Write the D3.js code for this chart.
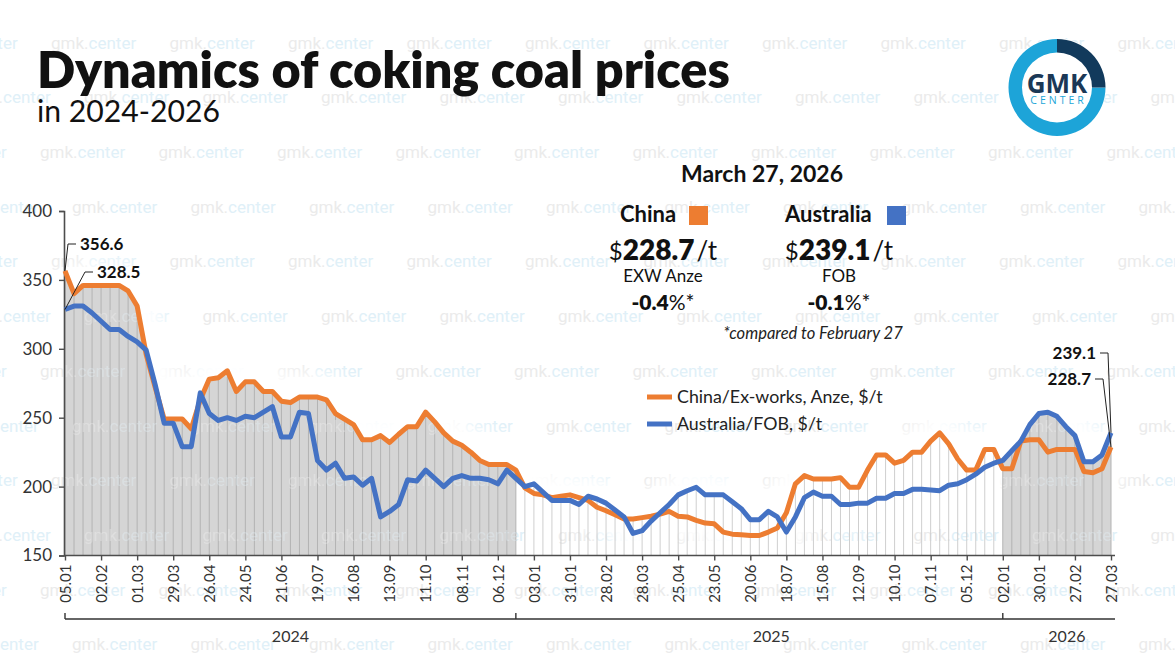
<!DOCTYPE html>
<html><head><meta charset="utf-8">
<script src="https://cdn.jsdelivr.net/npm/d3@7"></script>
<style>
body{margin:0;background:#fff;}
svg{display:block;font-family:Lato,"Noto Sans",sans-serif;}
</style></head><body>
<svg id="c" width="1175" height="665"></svg>
<script>
// ---------------- DATA ----------------
const dates2024 = ["05.01","12.01","19.01","26.01","02.02","09.02","16.02","23.02","01.03","08.03","15.03","22.03","29.03","05.04","12.04","19.04","26.04","03.05","10.05","17.05","24.05","31.05","07.06","14.06","21.06","28.06","05.07","12.07","19.07","26.07","02.08","09.08","16.08","23.08","30.08","06.09","13.09","20.09","27.09","04.10","11.10","18.10","25.10","01.11","08.11","15.11","22.11","29.11","06.12","13.12","20.12","27.12"];
const dates2025 = ["03.01","10.01","17.01","24.01","31.01","07.02","14.02","21.02","28.02","07.03","14.03","21.03","28.03","04.04","11.04","18.04","25.04","02.05","09.05","16.05","23.05","30.05","06.06","13.06","20.06","27.06","04.07","11.07","18.07","25.07","01.08","08.08","15.08","22.08","29.08","05.09","12.09","19.09","26.09","03.10","10.10","17.10","24.10","31.10","07.11","14.11","21.11","28.11","05.12","12.12","19.12","26.12"];
const dates2026 = ["02.01","09.01","16.01","23.01","30.01","06.02","13.02","20.02","27.02","06.03","13.03","20.03","27.03"];

const chinaEXW = [
356.6,340,346,346,346,346,346,342,331,296,
272,249,249,249,242,263,278,279,284,269,
276,276,269,269,262,261,265,265,265,263,
253,249,245,234,234,237,232,238,243.5,243.5,
254,247,239,233,230,225,219,216,216,216,
212,199,195,194,192,193,194,192,190,185,
182.5,179.5,176.5,176.5,177.5,178.5,180,182,178.5,178,
175.5,173.5,173,167,165.5,165,164.5,164.5,167,170,
181,202,208,205.5,205.5,205.5,206.5,199.5,199.5,212,
223,223,217,219,225,225,233,239,231,220,
212,212,227,227,213,213,233,234,234,225,
227,227,227,211,210,213,228.7];

const australiaFOB = [
328.5,331,331,326,320,314,314,309,305,299,
274,246,246,229,229,268,253,248,250,248,
251,250,254,258,236,236,254,253,219,212,
217,206,207,201,206,178,182,187,205,204,
212,206,200,206,208,206,206,205,202,212,
206,200,202,196,190,190,190,187,193,191,
188,183,178,166,168,175,181,187,194,197,
199.5,194,194,194,189,184,176,176,182,178,
167,178,192,196,193,193,187,187,188,188,
191.5,191.5,195,195,198,198,197.5,197,201,202,
205,209,214,217,219,226,233,245,253,254,
251,243.5,237,218,218,223,239.1];

const tickLabels = ["05.01","02.02","01.03","29.03","26.04","24.05","21.06","19.07","16.08","13.09","11.10","08.11","06.12",
  "03.01","31.01","28.02","28.03","25.04","23.05","20.06","18.07","15.08","12.09","10.10","07.11","05.12",
  "02.01","30.01","27.02","27.03"];
const yTicks = [150,200,250,300,350,400];
const years = ["2024","2025","2026"];
const seriesNames = ["China","Australia"];
const legendLabels = ["China/Ex-works, Anze, $/t","Australia/FOB, $/t"];
const latestDate = "March 27, 2026";
const latestPrice = ["228.7","239.1"];
const priceBasis = ["EXW Anze","FOB"];
const monthChange = ["-0.4","-0.1"];
const changeNote = "*compared to February 27";
const colors = ["#ed7d31","#4472c4"];

// ---------------- BUILD ----------------
const yearDates = [dates2024, dates2025, dates2026];
const keys = [];
yearDates.forEach((arr, yi) => arr.forEach(d => keys.push(d + "." + years[yi])));
const rows = keys.map((k, i) => ({k, i, c: chinaEXW[i], a: australiaFOB[i], m: Math.max(chinaEXW[i], australiaFOB[i])}));

const tickKeys = [];
let p = 0;
tickLabels.forEach(t => { while (p < keys.length && keys[p].slice(0,5) !== t) p++; tickKeys.push(keys[p]); });

const svg = d3.select("#c");
const W = 1175, H = 665;

const x = d3.scalePoint().domain(keys).range([65, 1111]);
const y = d3.scaleLinear().domain([150, 400]).range([555.5, 211]);

const defs = svg.append("defs");

// ---- watermarks ----
const rowOffsets = [51, 84, 40, 72];
function watermarks(g, c1, c2, keep) {
  for (let r = 0; r < 12; r++) {
    const by = 48.6 + r * 54.7;
    const off = rowOffsets[r % 4];
    for (let cx = off - 118.5; cx < W; cx += 118.5) {
      if (keep && !keep(cx, by)) continue;
      const t = g.append("text").attr("x", cx).attr("y", by);
      t.append("tspan").attr("fill", c1).text("gmk.");
      t.append("tspan").attr("fill", c2).text("center");
    }
  }
}
const wm = svg.append("g").attr("font-family", "Roboto, sans-serif").attr("font-size", 17);
watermarks(wm, "#ebebeb", "#e0f0f8");

// ---- glow ----
defs.append("filter").attr("id", "glow").attr("x", "-10%").attr("y", "-40%").attr("width", "120%").attr("height", "180%")
  .append("feGaussianBlur").attr("stdDeviation", 10);
const glow = svg.append("g").attr("filter", "url(#glow)");
["c", "a"].forEach(s => {
  glow.append("path").datum(rows)
    .attr("fill", "none").attr("stroke", "#fff").attr("stroke-width", 44).attr("stroke-linejoin", "round")
    .attr("d", d3.line().x(d => x(d.k)).y(d => y(d[s])));
});

// ---- shaded year bands ----
const band2024 = rows.filter(d => d.i <= 50);
const band2026 = rows.filter(d => d.i >= 104);
const area = d3.area().x(d => x(d.k)).y0(y(150)).y1(d => y(d.m));
const clip = defs.append("clipPath").attr("id", "bandclip");
[band2024, band2026].forEach(b => {
  svg.append("path").datum(b).attr("fill", "#d5d5d5").attr("d", area);
  clip.append("path").datum(b).attr("d", area);
});

// ---- weekly vertical lines ----
svg.append("g").selectAll("line").data(rows).join("line")
  .attr("x1", d => x(d.k)).attr("x2", d => x(d.k))
  .attr("y1", y(150)).attr("y2", d => y(d.m))
  .attr("stroke", d => (d.i <= 50 || d.i >= 104) ? "#b3b3b3" : "#cfcfcf")
  .attr("stroke-width", 1);

// faint watermark visible through the grey bands (only copies that fall inside the plot)
const wm2 = svg.append("g").attr("clip-path", "url(#bandclip)").attr("font-family", "Roboto, sans-serif")
  .attr("font-size", 17).attr("opacity", 0.35);
watermarks(wm2, "#f2f2f2", "#e6f3fa", (cx, by) => cx > 20 && cx < 1100 && by > 250 && by < 560);

// ---- axes ----
const axisColor = "#4d4d4d";
const gy = svg.append("g").attr("transform", "translate(64,0)")
  .call(d3.axisLeft(y).tickValues(yTicks).tickSize(5).tickPadding(7));
gy.select(".domain").attr("stroke", axisColor).attr("stroke-width", 1.6);
gy.selectAll(".tick line").attr("stroke", axisColor).attr("stroke-width", 1.4);
gy.selectAll(".tick text").attr("font-size", 17).attr("fill", "#333").attr("font-family", "Lato, sans-serif");

const gx = svg.append("g").attr("transform", `translate(0,${y(150)})`)
  .call(d3.axisBottom(x).tickValues(tickKeys).tickSize(5).tickFormat(d => d.slice(0,5)));
gx.select(".domain").attr("stroke", axisColor).attr("stroke-width", 1.6).attr("d", `M64,0H1115`);
gx.selectAll(".tick line").attr("stroke", axisColor).attr("stroke-width", 1.4);
gx.selectAll(".tick text")
  .attr("font-size", 15).attr("fill", "#333").attr("font-family", "Lato, sans-serif")
  .attr("text-anchor", "end").attr("transform", "rotate(-90)")
  .attr("x", -9).attr("y", 0).attr("dy", "0.35em");

// ---- year bracket ----
const by0 = 619;
const bracket = svg.append("g").attr("stroke", "#333").attr("stroke-width", 1.4);
bracket.append("line").attr("x1", x(keys[0])).attr("x2", 1115).attr("y1", by0).attr("y2", by0);
[keys[0], keys[50], keys[104]].forEach(k => {
  bracket.append("line").attr("x1", x(k)).attr("x2", x(k)).attr("y1", by0 - 6).attr("y2", by0);
});
const yearCenters = [
  (x(keys[0]) + x(keys[50])) / 2,
  (x(keys[50]) + x(keys[104])) / 2 + 12,
  (x(keys[104]) + 1115) / 2 + 8
];
years.forEach((yr, i) => {
  svg.append("text").attr("x", yearCenters[i]).attr("y", 642).attr("text-anchor", "middle")
    .attr("font-size", 16).attr("fill", "#333").text(yr);
});

// ---- series lines ----
["c", "a"].forEach((s, si) => {
  svg.append("path").datum(rows)
    .attr("fill", "none").attr("stroke", colors[si]).attr("stroke-width", 5)
    .attr("stroke-linejoin", "round")
    .attr("d", d3.line().x(d => x(d.k)).y(d => y(d[s])));
});

// ---- point labels ----
function callout(xv, yv, lx, ly, side, txt) {
  const g = svg.append("g");
  const elbowX = side === "right" ? lx - 4 : lx + 4;
  const endX = side === "right" ? lx - 12 : lx + 12;
  g.append("polyline").attr("fill", "none").attr("stroke", "#222").attr("stroke-width", 1)
    .attr("points", `${xv},${yv} ${endX},${ly} ${elbowX},${ly}`);
  g.append("text").attr("x", lx).attr("y", ly).attr("dy", "0.36em")
    .attr("text-anchor", side === "right" ? "start" : "end")
    .attr("font-size", 17).attr("font-weight", 700).attr("fill", "#111").text(txt);
}
callout(x(keys[0]), y(chinaEXW[0]), 80, 244, "right", chinaEXW[0].toFixed(1));
callout(x(keys[0]), y(australiaFOB[0]), 97, 272, "right", australiaFOB[0].toFixed(1));
const L = keys.length - 1;
callout(x(keys[L]), y(australiaFOB[L]), 1096, 353, "left", australiaFOB[L].toFixed(1));
callout(x(keys[L]), y(chinaEXW[L]), 1091, 379, "left", chinaEXW[L].toFixed(1));

// ---- legend ----
legendLabels.forEach((lab, i) => {
  const ly = 397 + i * 27;
  svg.append("line").attr("x1", 647).attr("x2", 672).attr("y1", ly).attr("y2", ly)
    .attr("stroke", colors[i]).attr("stroke-width", 5);
  svg.append("text").attr("x", 677).attr("y", ly).attr("dy", "0.35em")
    .attr("font-size", 17.8).attr("fill", "#222").text(lab);
});

// ---- header ----
svg.append("text").attr("x", 37).attr("y", 88).attr("font-size", 47).attr("font-weight", 800)
  .attr("fill", "#111").attr("id", "title").text("Dynamics of coking coal prices");
svg.append("text").attr("x", 37).attr("y", 122).attr("font-size", 28).attr("font-weight", 400)
  .attr("fill", "#111").attr("id", "sub").text("in 2024-2026");
function fit(id, w) {
  const s = d3.select(id); const bb = s.node().getBBox();
  s.attr("font-size", parseFloat(s.attr("font-size")) * w / bb.width);
}
fit("#title", 693);
fit("#sub", 183);

svg.append("text").attr("x", 762).attr("y", 182).attr("text-anchor", "middle")
  .attr("font-size", 23).attr("font-weight", 700).attr("fill", "#111").text(latestDate);

const colX = [663, 839];
const nameX = [620, 785];
const sqX = [689, 887];
seriesNames.forEach((nm, i) => {
  svg.append("text").attr("x", nameX[i]).attr("y", 222).attr("font-size", 22).attr("font-weight", 700)
    .attr("fill", "#111").text(nm);
  svg.append("rect").attr("x", sqX[i]).attr("y", 206).attr("width", 19).attr("height", 19).attr("fill", colors[i]);
  const t = svg.append("text").attr("x", colX[i]).attr("y", 260).attr("text-anchor", "middle").attr("fill", "#111");
  t.append("tspan").attr("font-size", 24).text("$");
  t.append("tspan").attr("font-size", 28).attr("font-weight", 800).text(latestPrice[i]);
  t.append("tspan").attr("font-size", 26).attr("dx", 2).text("/t");
  svg.append("text").attr("x", colX[i]).attr("y", 282).attr("text-anchor", "middle")
    .attr("font-size", 17).attr("fill", "#111").text(priceBasis[i]);
  const c = svg.append("text").attr("x", colX[i]).attr("y", 310).attr("text-anchor", "middle").attr("fill", "#111");
  c.append("tspan").attr("font-size", 21).attr("font-weight", 800).text(monthChange[i]);
  c.append("tspan").attr("font-size", 21).attr("font-weight", 400).text("%*");
});
svg.append("text").attr("x", 813).attr("y", 339).attr("text-anchor", "middle")
  .attr("font-size", 16.5).attr("font-style", "italic").attr("fill", "#222").text(changeNote);

// ---- logo ----
const logo = svg.append("g").attr("transform", "translate(1057,87.5)");
logo.append("circle").attr("r", 49).attr("fill", "#fff");
logo.append("path").attr("fill", "#1da4d8")
  .attr("d", d3.arc()({innerRadius: 35, outerRadius: 48.5, startAngle: Math.PI / 2, endAngle: 2 * Math.PI}));
logo.append("path").attr("fill", "#123a5c")
  .attr("d", d3.arc()({innerRadius: 35, outerRadius: 48.5, startAngle: 0, endAngle: Math.PI / 2}));
logo.append("text").attr("y", 5).attr("text-anchor", "middle").attr("font-family", "'Open Sans', sans-serif")
  .attr("font-size", 26).attr("font-weight", 700).attr("fill", "#1b3856").text("GMK");
logo.append("text").attr("y", 16.5).attr("x", 1.5).attr("text-anchor", "middle").attr("font-family", "'Open Sans', sans-serif")
  .attr("font-size", 10.5).attr("letter-spacing", 3).attr("fill", "#22a6d8").text("CENTER");
</script>
</body></html>
